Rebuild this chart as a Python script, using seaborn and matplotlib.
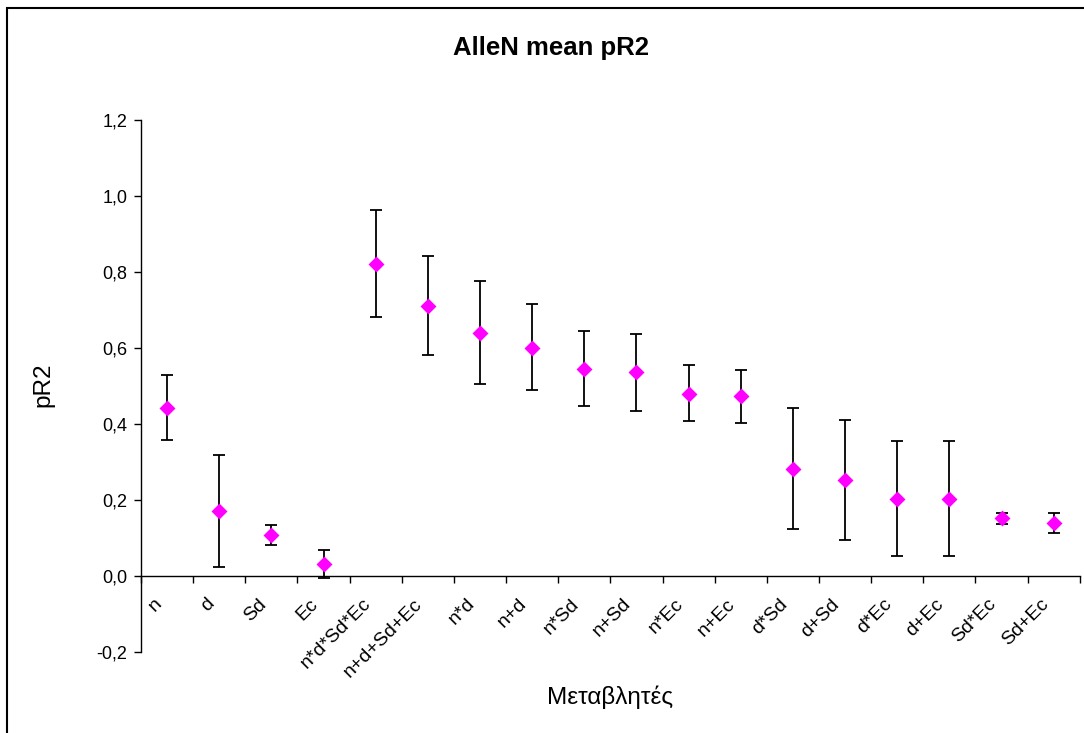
import numpy as np
import pandas as pd
import matplotlib
matplotlib.use("Agg")
import matplotlib.pyplot as plt
import matplotlib.transforms as mtransforms
from matplotlib.patches import Rectangle
from matplotlib.ticker import FixedLocator, FuncFormatter
import seaborn as sns

# values
variables = ["n", "d", "Sd", "Ec", "n*d*Sd*Ec", "n+d+Sd+Ec", "n*d", "n+d",
             "n*Sd", "n+Sd", "n*Ec", "n+Ec", "d*Sd", "d+Sd", "d*Ec", "d+Ec",
             "Sd*Ec", "Sd+Ec"]
mean_pr2 = [0.443, 0.170, 0.107, 0.032, 0.822, 0.711, 0.640, 0.601,
            0.546, 0.536, 0.479, 0.474, 0.282, 0.253, 0.203, 0.203,
            0.152, 0.140]
lower_pr2 = [0.358, 0.023, 0.082, -0.004, 0.681, 0.582, 0.505, 0.489,
             0.447, 0.434, 0.407, 0.403, 0.124, 0.095, 0.053, 0.053,
             0.136, 0.113]
upper_pr2 = [0.529, 0.318, 0.135, 0.068, 0.963, 0.841, 0.775, 0.716,
             0.645, 0.636, 0.555, 0.542, 0.442, 0.411, 0.354, 0.354,
             0.167, 0.167]
y_ticks = [-0.2, 0.0, 0.2, 0.4, 0.6, 0.8, 1.0, 1.2]

df = pd.DataFrame({"variable": variables, "pR2": mean_pr2,
                   "lo": lower_pr2, "hi": upper_pr2})

sns.set_style("white")
plt.rcParams["font.family"] = ["Liberation Sans", "DejaVu Sans"]
plt.rcParams["text.color"] = "black"
plt.rcParams["xtick.color"] = "black"
plt.rcParams["ytick.color"] = "black"

fig = plt.figure(figsize=(10.84, 7.33), dpi=100)
ax = fig.add_axes([0.1301, 0.1105, 0.866, 0.7258])

pos = np.arange(len(df))
ax.errorbar(pos, df["pR2"], yerr=[df["pR2"] - df["lo"], df["hi"] - df["pR2"]],
            fmt="none", ecolor="black", elinewidth=1.3, capsize=4.3,
            capthick=1.3, zorder=2)
sns.pointplot(data=df, x="variable", y="pR2", ax=ax, linestyle="none",
              marker="D", markersize=6, color="#FF00FF", errorbar=None,
              zorder=3)

ax.set_xlim(-0.5, len(df) - 0.5)
ax.set_ylim(-0.2, 1.2)
ax.yaxis.set_major_locator(FixedLocator(y_ticks))
ax.yaxis.set_major_formatter(FuncFormatter(lambda v, p: f"{v:.1f}".replace(".", ",")))

# x axis crosses at 0, ticks at category boundaries, labels at centres
for s in ["top", "right"]:
    ax.spines[s].set_visible(False)
ax.spines["bottom"].set_position(("data", 0))
for s in ["left", "bottom"]:
    ax.spines[s].set_color("black")
    ax.spines[s].set_linewidth(1.0)
ax.set_xticks(np.arange(-0.5, len(df), 1.0))
ax.set_xticklabels([])
ax.set_xticks(pos, minor=True)
ax.set_xticklabels(variables, minor=True, rotation=45, ha="right", va="top",
                   rotation_mode="anchor", fontsize=14)
ax.tick_params(axis="x", which="major", direction="out", length=5, width=1,
               color="black", bottom=True)
ax.tick_params(axis="x", which="minor", length=0, pad=14)
ax.tick_params(axis="y", direction="out", length=5, width=1, color="black",
               left=True, labelsize=13, pad=5)
offset = mtransforms.ScaledTranslation(-14 / 100, 0, fig.dpi_scale_trans)
for lbl in ax.get_xticklabels(minor=True):
    lbl.set_transform(lbl.get_transform() + offset)

ax.set_xlabel("")
ax.set_ylabel("")
fig.text(551 / 1084, 1 - 48 / 733, "AlleN mean pR2", ha="center", va="center",
         fontsize=18.5, fontweight="bold")
fig.text(43 / 1084, 1 - 385 / 733, "pR2", rotation=90, ha="center", va="center",
         fontsize=17.5)
fig.text(610 / 1084, 1 - 697 / 733, "Μεταβλητές", ha="center", va="center",
         fontsize=17.5)

fig.add_artist(Rectangle((7 / 1084, -0.1), 1.2, 1.1 - 8 / 733,
                         transform=fig.transFigure, fill=False,
                         edgecolor="black", linewidth=1.5))

fig.savefig("out.png", dpi=100)
